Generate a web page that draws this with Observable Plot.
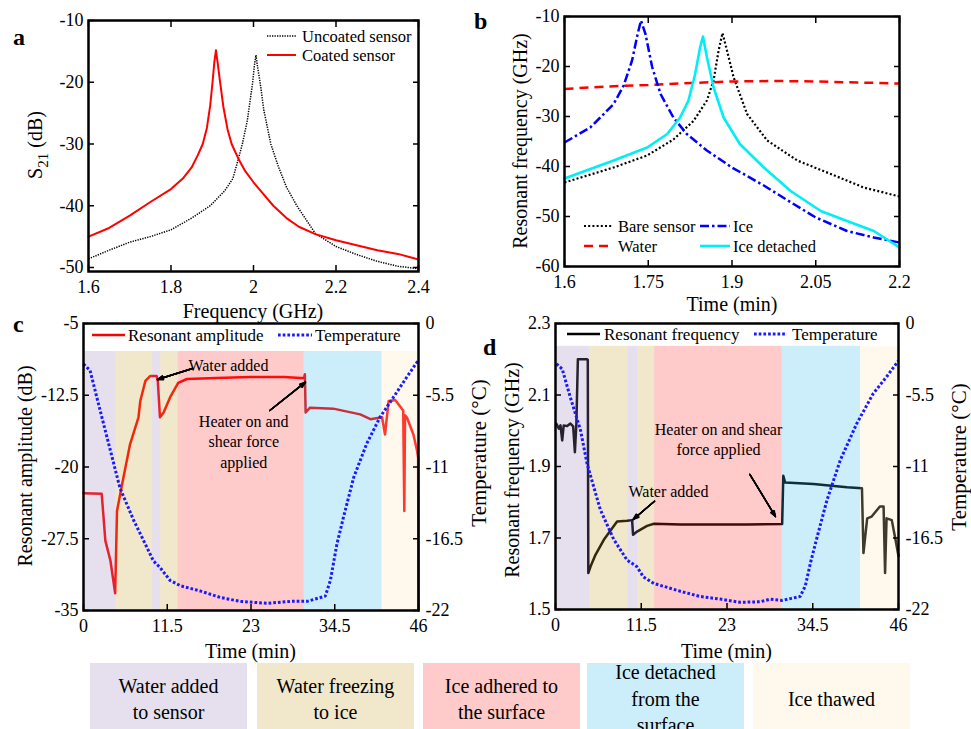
<!DOCTYPE html>
<html>
<head>
<meta charset="utf-8">
<script src="https://cdn.jsdelivr.net/npm/d3@7"></script>
<script src="https://cdn.jsdelivr.net/npm/@observablehq/plot@0.6"></script>
<style>
  html, body { margin: 0; padding: 0; background: #fff; }
  #root { position: relative; width: 971px; height: 729px; overflow: hidden; font-family: "Liberation Serif", Tinos, "Times New Roman", Times, "DejaVu Serif", serif; }
  .panel { position: absolute; }
  .panel svg { overflow: visible; display: block; }
  .box { position: absolute; top: 663px; height: 72px; display: flex; align-items: center; justify-content: center; text-align: center; font-size: 20px; line-height: 26.5px; color: #000; }
  #overlay { position: absolute; left: 0; top: 0; pointer-events: none; }
</style>
</head>
<body>
<div id="root">
  <div class="panel" id="pa" style="left:0;top:0"></div>
  <div class="panel" id="pb" style="left:480px;top:0"></div>
  <div class="panel" id="pc" style="left:0;top:310px"></div>
  <div class="panel" id="pd" style="left:480px;top:310px"></div>
</div>
<script>
// ---------------- DATA ----------------
// Panel a: S21 (dB) vs Frequency (GHz)
const aCoatedF   = [1.60,1.65,1.70,1.75,1.80,1.83,1.85,1.865,1.877,1.887,1.895,1.9007,1.905,1.909,1.913,1.919,1.927,1.937,1.947,1.965,1.98,2.00,2.02,2.048,2.08,2.11,2.15,2.20,2.25,2.30,2.35,2.40];
const aCoatedS   = [-45.0,-43.6,-41.6,-39.4,-37.3,-35.5,-33.8,-31.8,-30.0,-27.4,-23.8,-20.0,-16.8,-14.8,-16.8,-20.0,-24.0,-27.6,-30.0,-32.6,-34.4,-36.2,-37.8,-40.0,-42.0,-43.4,-44.6,-45.6,-46.4,-47.2,-47.8,-48.7];
const aUncoatedF = [1.60,1.65,1.70,1.75,1.80,1.85,1.895,1.93,1.95,1.965,1.973,1.985,1.993,1.998,2.002,2.006,2.010,2.016,2.025,2.042,2.06,2.08,2.105,2.15,2.20,2.25,2.30,2.35,2.40];
const aUncoatedS = [-48.6,-47.2,-45.9,-45.0,-43.9,-42.0,-40.0,-37.6,-35.6,-32.0,-30.0,-26.2,-22.4,-20.0,-17.4,-15.6,-17.6,-20.0,-24.5,-30.0,-33.6,-37.0,-40.0,-44.5,-46.6,-47.9,-49.0,-49.8,-50.2];
const aXTicks = [1.6, 1.8, 2, 2.2, 2.4];
const aYTicks = [-10, -20, -30, -40, -50];
const aLegend = ["Uncoated sensor", "Coated sensor"];

// Panel b
const bWaterX = [1.6, 1.675, 1.75, 1.825, 1.9, 1.975, 2.05, 2.125, 2.2];
const bWaterY = [-24.5, -24.0, -23.7, -23.3, -23.0, -22.9, -23.0, -23.2, -23.4];
const bIceX = [1.6,1.646,1.664,1.688,1.706,1.721,1.731,1.737,1.745,1.757,1.772,1.795,1.819,1.855,1.9,1.957,2.0,2.05,2.106,2.154,2.2];
const bIceY = [-35.2,-32.2,-30.2,-27.5,-23.8,-18.8,-13.5,-10.8,-13.5,-20.1,-25.5,-30.2,-33.5,-36.8,-40.2,-43.8,-46.8,-50.2,-52.9,-54.2,-55.2];
const bDetX = [1.6,1.688,1.748,1.784,1.807,1.822,1.834,1.843,1.848,1.855,1.867,1.885,1.914,1.957,2.005,2.059,2.106,2.154,2.2];
const bDetY = [-42.4,-38.8,-36.2,-33.5,-30.2,-26.8,-21.5,-16.1,-14.0,-18.1,-24.2,-30.2,-35.5,-40.2,-44.9,-48.9,-50.9,-52.9,-56.2];
const bBareX = [1.6,1.688,1.748,1.795,1.831,1.855,1.867,1.876,1.883,1.891,1.903,1.927,1.963,2.017,2.077,2.136,2.2];
const bBareY = [-43.2,-40.2,-37.8,-34.6,-30.9,-26.8,-22.8,-16.8,-13.3,-16.8,-22.2,-29.5,-34.8,-38.8,-41.5,-44.2,-46.0];
const bXTicks = [1.6, 1.75, 1.9, 2.05, 2.2];
const bYTicks = [-10, -20, -30, -40, -50, -60];
const bLegend = ["Bare sensor", "Ice", "Water", "Ice detached"];

// Panel c: resonant amplitude (dB) and temperature (°C) vs time (min)
const cTime = [0,2.5,3.0,3.7,4.35,4.6,5.3,6.4,7.55,7.8,8.5,9.15,10.05,10.2,10.5,11.0,11.9,13.0,14.2,18.3,22.9,27.5,29.8,30.3,30.4,30.5,31.1,34.3,38.0,39.4,41.0,41.4,41.9,42.8,43.9,44.05,44.15,44.4,45.3,45.8,45.95,46.0];
const cAmp  = [-22.75,-22.8,-27.7,-29.8,-33.2,-24.6,-21.8,-17.6,-14.8,-13.1,-11.0,-10.5,-10.5,-11.0,-14.8,-14.3,-12.7,-11.2,-10.8,-10.7,-10.6,-10.6,-10.7,-10.7,-10.3,-14.3,-13.8,-13.9,-14.5,-15.0,-14.8,-16.6,-13.1,-13.0,-14.1,-24.6,-14.6,-14.8,-16.6,-18.3,-19.0,-35];
const cTempTime = [0,0.9,2.3,3.7,5.0,6.9,8.7,9.6,10.5,11.9,13.3,16.0,18.8,21.5,25.2,28.4,30.7,33.2,33.9,34.8,35.7,37.1,38.9,40.7,42.5,44.4,46];
const cTemp = [-3.1,-3.6,-6.7,-9.75,-12.6,-15.1,-17.15,-18.2,-18.7,-19.7,-20.1,-20.5,-21.0,-21.3,-21.45,-21.3,-21.3,-20.9,-19.7,-16.9,-14.85,-11.8,-9.2,-7.2,-5.7,-4.1,-2.8];
const cBounds = [0, 4.4, 9.5, 10.6, 13, 30.3, 41, 46];
const cXTicks = [0, 11.5, 23, 34.5, 46];
const cYTicks = [-5, -12.5, -20, -27.5, -35];
const cShadeTop = -7.93;
const cNoteText = ["Water added", "Heater on and\nshear force\napplied"];
const cNoteT = [19.9, 22.0];
const cNoteV = [-9.29, -17.23];
const cArrowT1 = [14.97, 25.58], cArrowV1 = [-9.70, -14.09];
const cArrowT2 = [10.16, 30.48], cArrowV2 = [-10.85, -11.13];
const cLegend = ["Resonant amplitude", "Temperature"];

// Panel d: resonant frequency (GHz) and temperature (°C) vs time (min)
const dTime = [0.1,0.45,0.67,0.9,1.1,1.56,2.0,2.37,2.6,2.8,3.0,3.35,4.24,4.33,4.4,4.7,5.36,6.48,7.6,8.26,9.6,10.27,10.4,10.94,12.28,13.2,16.75,21.2,25.7,30.4,30.55,30.8,34.6,39.1,41.1,41.3,41.8,42.4,43.5,44.0,44.2,44.4,45.1,45.6,46.0];
const dFreq = [2.02,2.006,2.015,1.973,2.015,2.013,2.02,2.012,1.94,2.02,2.2,2.2,2.2,2.198,1.602,1.62,1.653,1.695,1.727,1.746,1.748,1.75,1.709,1.718,1.734,1.74,1.738,1.738,1.738,1.739,1.874,1.855,1.851,1.842,1.839,1.658,1.755,1.76,1.788,1.788,1.602,1.755,1.75,1.695,1.649];
const dTempTime = [0.13,0.9,2.0,3.35,4.24,6.0,7.8,9.6,10.9,11.8,13.2,15.0,16.75,19.4,22.1,24.8,27.5,28.8,30.4,32.8,33.5,34.2,35.1,36.4,38.2,40.4,42.6,44.4,46];
const dTemp = [-3.1,-3.5,-5.7,-8.2,-10.8,-14.3,-16.6,-18.2,-18.7,-19.5,-20.0,-20.3,-20.6,-21.0,-21.2,-21.45,-21.4,-21.2,-21.3,-21.0,-20.2,-18.4,-16.4,-13.6,-10.5,-7.7,-5.4,-4.1,-2.86];
const dBounds = [0, 4.6, 9.7, 11.0, 13.3, 30.4, 40.9, 46];
const dXTicks = [0, 11.5, 23, 34.5, 46];
const dYTicks = [2.3, 2.1, 1.9, 1.7, 1.5];
const dShadeTop = 2.236;
const dNoteText = ["Water added", "Heater on and shear\nforce applied"];
const dNoteT = [15.15, 21.86];
const dNoteV = [1.833, 1.978];
const dArrowT1 = [13.28, 26.06], dArrowV1 = [1.803, 1.878];
const dArrowT2 = [10.42, 29.5], dArrowV2 = [1.752, 1.760];
const dLegend = ["Resonant frequency", "Temperature"];

// Stage shading (same order as bounds intervals)
const stageOrder = ["added", "freezing", "added", "freezing", "adhered", "detached", "thawed"];
const stageKeys = ["added", "freezing", "adhered", "detached", "thawed"];
const stageLabels = ["Water added\nto sensor", "Water freezing\nto ice", "Ice adhered to\nthe surface", "Ice detached\nfrom the\nsurface", "Ice thawed"];
const stageSolid = ["#e6e0ee", "#f1e7cb", "#fecaca", "#cbeefa", "#fff8ec"];
const stageOverlay = ["#9b83bb", "#c79f2f", "#fb2b2b", "#2fbbeb", "#ffe3b3"]; // drawn at 25% opacity

// ---------------- HELPERS ----------------
const FONT = '"Liberation Serif", Tinos, "Times New Roman", Times, "DejaVu Serif", serif';
const fmt = d => String(d);
const rows = (xs, ys) => xs.map((x, i) => ({x, y: ys[i]}));
const baseStyle = {fontFamily: FONT, fontSize: "18px", color: "black", background: "transparent", overflow: "visible"};

function axes(xTicks, yTicks, {top = true, rightFmt = () => ""} = {}) {
  return [
    Plot.axisX({anchor: "bottom", ticks: xTicks, tickSize: -6, tickPadding: 15, tickFormat: fmt, label: null, fontSize: 18, fontFamily: FONT, strokeWidth: 1.5}),
    top ? Plot.axisX({anchor: "top", ticks: xTicks, tickSize: -6, tickFormat: () => "", label: null, strokeWidth: 1.5}) : null,
    Plot.axisY({anchor: "left", ticks: yTicks, tickSize: -6, tickPadding: 11, tickFormat: fmt, label: null, fontSize: 18, fontFamily: FONT, strokeWidth: 1.5}),
    Plot.axisY({anchor: "right", ticks: yTicks, tickSize: -6, tickPadding: 13, tickFormat: rightFmt, label: null, fontSize: 18, fontFamily: FONT, strokeWidth: 1.5})
  ];
}
function txt(svg, x, y, s, {size = 20, anchor = "middle", rotate = 0, weight = "normal"} = {}) {
  return d3.select(svg).append("text")
    .attr("transform", `translate(${x},${y}) rotate(${rotate})`)
    .attr("text-anchor", anchor).style("font-family", FONT).attr("font-size", size)
    .attr("font-weight", weight).attr("fill", "black").text(s);
}
function sample(svg, x1, x2, y, stroke, width, dash) {
  d3.select(svg).append("line").attr("x1", x1).attr("x2", x2).attr("y1", y).attr("y2", y)
    .attr("stroke", stroke).attr("stroke-width", width).attr("stroke-dasharray", dash || null).attr("stroke-linecap", "butt");
}
function stageRects(bounds, yLo, yHi) {
  const r = stageOrder.map((k, i) => ({x1: bounds[i], x2: bounds[i + 1], k}));
  return Plot.rect(r, {x1: "x1", x2: "x2", y1: yLo, y2: yHi, fill: d => stageOverlay[stageKeys.indexOf(d.k)], fillOpacity: 0.25});
}
// annotation arrows with (approximately) filled heads: several wing angles stacked
function arrows(t1, v1, t2, v2) {
  const idx = t1.map((t, i) => i);
  return [40, 31, 22, 13, 5].map(a => Plot.arrow(idx, {
    x1: i => t1[i], y1: i => v1[i], x2: i => t2[i], y2: i => v2[i],
    stroke: "black", strokeWidth: 1.4, headLength: 6.5, headAngle: a
  }));
}
const BUTT = {strokeLinecap: "butt", strokeLinejoin: "miter"};

// ---------------- PANEL A ----------------
const svgA = Plot.plot({
  width: 480, height: 320, marginLeft: 88, marginRight: 62, marginTop: 20, marginBottom: 49,
  style: baseStyle,
  x: {domain: [1.6, 2.4]},
  y: {domain: [-50.65, -10]},
  marks: [
    Plot.line(rows(aUncoatedF, aUncoatedS), {x: "x", y: "y", stroke: "black", strokeWidth: 1.5, strokeDasharray: "1.3,1.2", ...BUTT}),
    Plot.line(rows(aCoatedF, aCoatedS), {x: "x", y: "y", stroke: "#ff0000", strokeWidth: 2}),
    Plot.frame({stroke: "black", strokeWidth: 2.5}),
    ...axes(aXTicks, aYTicks)
  ]
});
document.getElementById("pa").append(svgA);
txt(svgA, 253, 318, "Frequency (GHz)");
{
  const t = txt(svgA, 42, 145, "S", {rotate: -90});
  t.append("tspan").attr("dy", 6).attr("font-size", 15).text("21");
  t.append("tspan").attr("dy", -6).text(" (dB)");
}
sample(svgA, 267, 296, 36, "black", 1.5, "1.3,1.2");
txt(svgA, 302, 41.5, aLegend[0], {size: 16.5, anchor: "start"});
sample(svgA, 267, 296, 55, "#ff0000", 2);
txt(svgA, 302, 60.5, aLegend[1], {size: 16.5, anchor: "start"});

// ---------------- PANEL B ----------------
const svgB = Plot.plot({
  width: 491, height: 320, marginLeft: 84, marginRight: 72, marginTop: 16, marginBottom: 54,
  style: baseStyle,
  x: {domain: [1.6, 2.2]},
  y: {domain: [-60, -10]},
  marks: [
    Plot.line(rows(bBareX, bBareY), {x: "x", y: "y", stroke: "black", strokeWidth: 2.2, strokeDasharray: "2,2.2", ...BUTT}),
    Plot.line(rows(bWaterX, bWaterY), {x: "x", y: "y", stroke: "#ff0000", strokeWidth: 2.5, strokeDasharray: "9,6", ...BUTT}),
    Plot.line(rows(bIceX, bIceY), {x: "x", y: "y", stroke: "#0000ff", strokeWidth: 2.5, strokeDasharray: "9,3,2.5,3", ...BUTT}),
    Plot.line(rows(bDetX, bDetY), {x: "x", y: "y", stroke: "#00eef5", strokeWidth: 2.6}),
    Plot.frame({stroke: "black", strokeWidth: 2.5}),
    ...axes(bXTicks, bYTicks)
  ]
});
document.getElementById("pb").append(svgB);
txt(svgB, 252, 311, "Time (min)");
txt(svgB, 47, 141, "Resonant frequency (GHz)", {rotate: -90});
sample(svgB, 104, 133, 226, "black", 2.2, "2,2.2");
txt(svgB, 138, 231.5, bLegend[0], {size: 16.5, anchor: "start"});
sample(svgB, 220, 250, 226, "#0000ff", 2.5, "9,3,2.5,3");
txt(svgB, 253, 231.5, bLegend[1], {size: 16.5, anchor: "start"});
sample(svgB, 104, 133, 246, "#ff0000", 2.5, "9,6");
txt(svgB, 138, 251.5, bLegend[2], {size: 16.5, anchor: "start"});
sample(svgB, 220, 250, 246, "#00eef5", 2.6);
txt(svgB, 253, 251.5, bLegend[3], {size: 16.5, anchor: "start"});

// ---------------- PANEL C ----------------
const ampFromTemp = t => -35 + (t + 22) * 30 / 22;
const tempFromAmp = a => +(((a + 35) * 22 / 30) - 22).toFixed(1);
const svgC = Plot.plot({
  width: 480, height: 350, marginLeft: 83, marginRight: 62, marginTop: 13, marginBottom: 50,
  style: baseStyle,
  x: {domain: [0, 46]},
  y: {domain: [-35, -5]},
  marks: [
    Plot.line(rows(cTime, cAmp), {x: "x", y: "y", stroke: "#ff0000", strokeWidth: 2.5}),
    stageRects(cBounds, -35, cShadeTop),
    Plot.line(rows(cTempTime, cTemp.map(ampFromTemp)), {x: "x", y: "y", stroke: "#1a1aff", strokeWidth: 3, strokeDasharray: "2.7,2", ...BUTT}),
    ...arrows(cArrowT1, cArrowV1, cArrowT2, cArrowV2),
    Plot.text(cNoteText, {x: (d, i) => cNoteT[i], y: (d, i) => cNoteV[i], text: d => d, fontSize: 16, lineHeight: 1.28, fill: "black", fontFamily: FONT}),
    Plot.frame({stroke: "black", strokeWidth: 2.5}),
    ...axes(cXTicks, cYTicks, {top: false, rightFmt: a => String(tempFromAmp(a))})
  ]
});
document.getElementById("pc").append(svgC);
txt(svgC, 250.5, 348, "Time (min)");
txt(svgC, 32, 156, "Resonant amplitude (dB)", {rotate: -90});
txt(svgC, 486, 143, "Temperature (°C)", {rotate: -90, size: 21});
sample(svgC, 92, 125, 25, "#ff0000", 2.5);
txt(svgC, 128, 31, cLegend[0], {size: 17, anchor: "start"});
sample(svgC, 278, 312, 25, "#1a1aff", 3, "2.7,2");
txt(svgC, 315, 31, cLegend[1], {size: 17, anchor: "start"});

// ---------------- PANEL D ----------------
const freqFromTemp = t => 1.5 + (t + 22) * 0.8 / 22;
const tempFromFreq = f => +(((f - 1.5) * 22 / 0.8) - 22).toFixed(1);
const svgD = Plot.plot({
  width: 491, height: 350, marginLeft: 75, marginRight: 73, marginTop: 13, marginBottom: 51,
  style: baseStyle,
  x: {domain: [0, 46]},
  y: {domain: [1.5, 2.3]},
  marks: [
    Plot.line(rows(dTime, dFreq), {x: "x", y: "y", stroke: "black", strokeWidth: 2.5}),
    stageRects(dBounds, 1.5, dShadeTop),
    Plot.line(rows(dTempTime, dTemp.map(freqFromTemp)), {x: "x", y: "y", stroke: "#1a1aff", strokeWidth: 3, strokeDasharray: "2.7,2", ...BUTT}),
    ...arrows(dArrowT1, dArrowV1, dArrowT2, dArrowV2),
    Plot.text(dNoteText, {x: (d, i) => dNoteT[i], y: (d, i) => dNoteV[i], text: d => d, fontSize: 16, lineHeight: 1.25, fill: "black", fontFamily: FONT}),
    Plot.frame({stroke: "black", strokeWidth: 2.5}),
    ...axes(dXTicks, dYTicks, {top: false, rightFmt: f => String(tempFromFreq(f))})
  ]
});
document.getElementById("pd").append(svgD);
txt(svgD, 246.5, 348, "Time (min)");
txt(svgD, 39, 160, "Resonant frequency (GHz)", {rotate: -90});
txt(svgD, 486, 147, "Temperature (°C)", {rotate: -90, size: 21});
sample(svgD, 87, 120, 24, "black", 2.5);
txt(svgD, 124, 30, dLegend[0], {size: 17, anchor: "start"});
sample(svgD, 274, 307, 24, "#1a1aff", 3, "2.7,2");
txt(svgD, 312, 30, dLegend[1], {size: 17, anchor: "start"});

// ---------------- PANEL LETTERS + STAGE LEGEND ----------------
const root = document.getElementById("root");
const ov = d3.select(root).append("svg").attr("id", "overlay").attr("width", 971).attr("height", 729);
const letters = ["a", "b", "c", "d"];
const letterPos = [[13, 45], [474, 29], [13, 332], [483, 355]];
letters.forEach((l, i) => txt(ov.node(), letterPos[i][0], letterPos[i][1], l, {size: 24, anchor: "start", weight: "bold"}));

const boxX = [90, 257, 423, 587, 753];
stageKeys.forEach((k, i) => {
  const div = document.createElement("div");
  div.className = "box";
  div.style.left = boxX[i] + "px";
  div.style.width = "157px";
  div.style.background = stageSolid[i];
  div.innerHTML = stageLabels[i].split("\n").join("<br>");
  root.append(div);
});
</script>
</body>
</html>
